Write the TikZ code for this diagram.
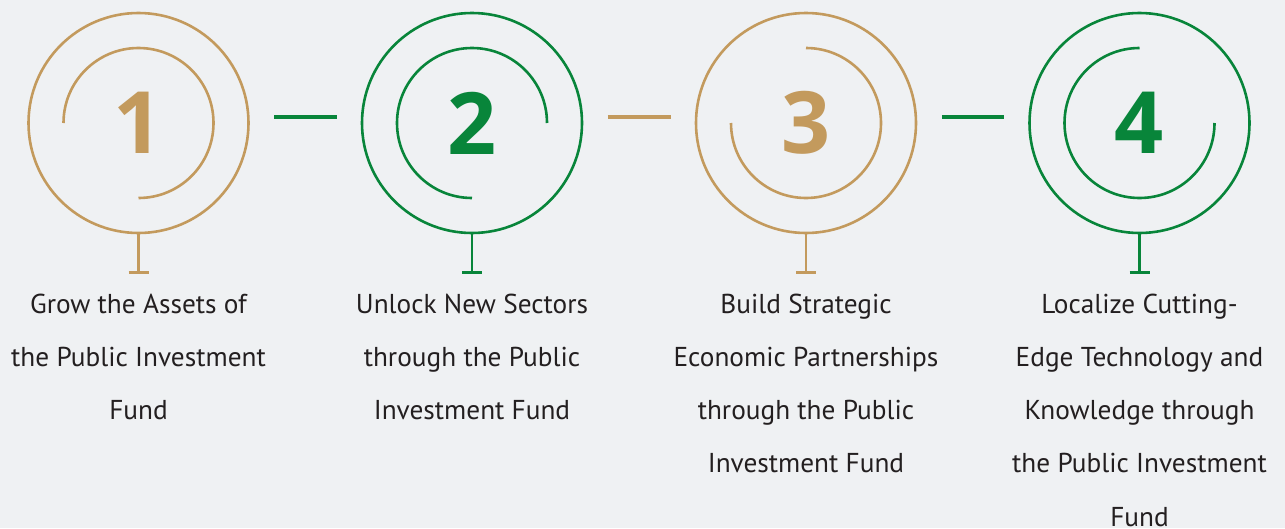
\documentclass[tikz,border=0pt]{standalone}
\usepackage{fontspec}
\setmainfont{PT Sans}
\newfontfamily\numfont{Open Sans}
\usetikzlibrary{calc}
\definecolor{tan}{HTML}{C39A5D}
\definecolor{pifgreen}{HTML}{08853A}
\definecolor{bg}{HTML}{EFF1F3}
\definecolor{txt}{HTML}{231F20}
\tikzset{
  ring/.style={circle, draw=#1, line width=2.6pt, minimum size=220pt, inner sep=0pt,
    text=#1, font=\numfont\bfseries\fontsize{86}{86}\selectfont},
  inner/.style={draw=#1, line width=2.6pt},
  stem/.style={draw=#1, line width=2.6pt},
  bar/.style={draw=#1, line width=3pt},
  link/.style={draw=#1, line width=4pt},
  label/.style={anchor=base, align=center, text=txt, inner sep=0pt,
    font=\fontsize{27.3}{53.3}\selectfont}
}
\begin{document}
\begin{tikzpicture}[x=1pt,y=1pt]
\fill[bg] (0,0) rectangle (1285,-528);
\useasboundingbox (0,0) rectangle (1285,-528);

\node[ring=tan] (c1) at (138.5,-123) {1};
\node[ring=pifgreen] (c2) at (472,-123) {2};
\node[ring=tan] (c3) at (806,-123) {3};
\node[ring=pifgreen] (c4) at (1139.5,-123) {4};

% inner arcs
\draw[inner=tan] (c1.center) ++(180:75) arc[start angle=180, end angle=-90, radius=75];
\draw[inner=pifgreen] (c2.center) ++(0:75) arc[start angle=0, end angle=270, radius=75];
\draw[inner=tan] (c3.center) ++(180:75) arc[start angle=180, end angle=450, radius=75];
\draw[inner=pifgreen] (c4.center) ++(90:75) arc[start angle=90, end angle=360, radius=75];

% links
\draw[link=pifgreen] ([shift={(24.5,6.5)}]c1.east) -- ([shift={(-24,6.5)}]c2.west);
\draw[link=tan] ([shift={(24.5,6.5)}]c2.east) -- ([shift={(-24,6.5)}]c3.west);
\draw[link=pifgreen] ([shift={(24.5,6.5)}]c3.east) -- ([shift={(-24,6.5)}]c4.west);

% stems
\foreach \i/\c in {1/tan,2/pifgreen,3/tan,4/pifgreen}{
  \draw[stem=\c] (c\i.south) -- ++(0,-38) coordinate (s\i);
  \draw[bar=\c] ($(s\i)+(-10,0)$) -- ($(s\i)+(10,0)$);
}

% labels (base anchor = last line's baseline)
\node[label] (l1) at (138.5,-419.6) {Grow the Assets of\\the Public Investment\\Fund};
\node[label] (l2) at (472,-419.6) {Unlock New Sectors\\through the Public\\Investment Fund};
\node[label] (l3) at (806,-472.9) {Build Strategic\\Economic Partnerships\\through the Public\\Investment Fund};
\node[label] (l4) at (1139.5,-526.2) {Localize Cutting-\\Edge Technology and\\Knowledge through\\the Public Investment\\Fund};
\end{tikzpicture}
\end{document}
